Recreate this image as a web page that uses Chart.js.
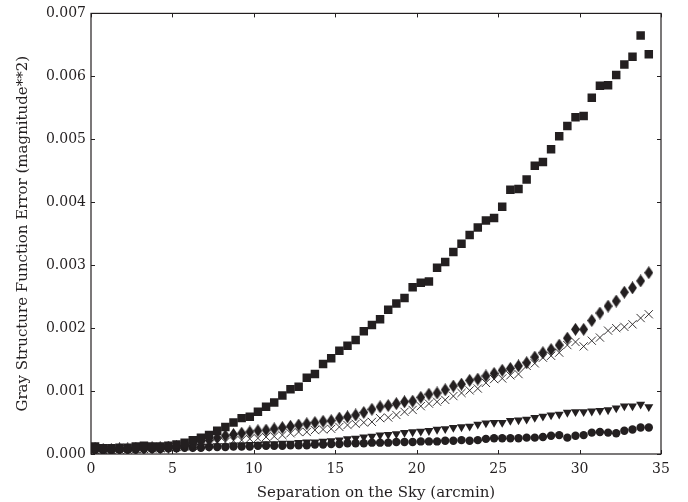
<!DOCTYPE html>
<html>
<head>
<meta charset="utf-8">
<script src="https://cdn.jsdelivr.net/npm/chart.js@4.4.1/dist/chart.umd.min.js"></script>
<style>
  html, body { margin: 0; padding: 0; background: #fff; }
  #wrap { width: 688px; height: 502px; }
</style>
</head>
<body>
<div id="wrap"><canvas id="chart" width="688" height="502"></canvas></div>
<script>
// separation bins (arcmin)
const separation = [
  0.25, 0.75, 1.25, 1.75, 2.25, 2.75, 3.25, 3.75, 4.25, 4.75,
  5.25, 5.75, 6.25, 6.75, 7.25, 7.75, 8.25, 8.75, 9.25, 9.75,
  10.25, 10.75, 11.25, 11.75, 12.25, 12.75, 13.25, 13.75, 14.25, 14.75,
  15.25, 15.75, 16.25, 16.75, 17.25, 17.75, 18.25, 18.75, 19.25, 19.75,
  20.25, 20.75, 21.25, 21.75, 22.25, 22.75, 23.25, 23.75, 24.25, 24.75,
  25.25, 25.75, 26.25, 26.75, 27.25, 27.75, 28.25, 28.75, 29.25, 29.75,
  30.25, 30.75, 31.25, 31.75, 32.25, 32.75, 33.25, 33.75, 34.25
];

const squareErr = [
  0.00012, 0.00009, 0.00009, 0.00010, 0.00010, 0.00012, 0.00013, 0.00012, 0.00012, 0.00013,
  0.00015, 0.00018, 0.00022, 0.00026, 0.00030, 0.00037, 0.00043, 0.00050, 0.00057, 0.00059,
  0.00067, 0.00075, 0.00082, 0.00093, 0.00103, 0.00107, 0.00121, 0.00127, 0.00143, 0.00152,
  0.00164, 0.00172, 0.00181, 0.00195, 0.00205, 0.00214, 0.00229, 0.00239, 0.00248, 0.00265,
  0.00272, 0.00274, 0.00296, 0.00305, 0.00321, 0.00334, 0.00348, 0.00360, 0.00371, 0.00375,
  0.00393, 0.00420, 0.00421, 0.00436, 0.00458, 0.00464, 0.00484, 0.00505, 0.00521, 0.00535,
  0.00537, 0.00566, 0.00585, 0.00586, 0.00602, 0.00619, 0.00631, 0.00665, 0.00635
];

const diamondErr = [
  0.00008, 0.00007, 0.00007, 0.00008, 0.00008, 0.00009, 0.00009, 0.00010, 0.00010, 0.00011,
  0.00012, 0.00014, 0.00016, 0.00019, 0.00022, 0.00026, 0.00029, 0.00031, 0.00033, 0.00035,
  0.00037, 0.00038, 0.00040, 0.00042, 0.00044, 0.00046, 0.00048, 0.00050, 0.00052, 0.00053,
  0.00057, 0.00059, 0.00062, 0.00066, 0.00071, 0.00075, 0.00077, 0.00080, 0.00083, 0.00084,
  0.00090, 0.00095, 0.00097, 0.00102, 0.00108, 0.00111, 0.00117, 0.00119, 0.00124, 0.00128,
  0.00133, 0.00136, 0.00140, 0.00145, 0.00154, 0.00161, 0.00166, 0.00173, 0.00184, 0.00198,
  0.00198, 0.00212, 0.00224, 0.00235, 0.00243, 0.00257, 0.00264, 0.00275, 0.00288
];

const crossErr = [
  0.00006, 0.00006, 0.00006, 0.00007, 0.00007, 0.00008, 0.00008, 0.00009, 0.00009, 0.00010,
  0.00011, 0.00012, 0.00013, 0.00014, 0.00016, 0.00018, 0.00019, 0.00021, 0.00022, 0.00024,
  0.00025, 0.00027, 0.00028, 0.00030, 0.00033, 0.00035, 0.00035, 0.00038, 0.00039, 0.00040,
  0.00043, 0.00046, 0.00048, 0.00050, 0.00051, 0.00057, 0.00058, 0.00062, 0.00067, 0.00070,
  0.00076, 0.00080, 0.00083, 0.00086, 0.00092, 0.00097, 0.00101, 0.00104, 0.00113, 0.00119,
  0.00120, 0.00125, 0.00127, 0.00140, 0.00144, 0.00153, 0.00156, 0.00161, 0.00173, 0.00178,
  0.00171, 0.00180, 0.00185, 0.00196, 0.00200, 0.00202, 0.00206, 0.00216, 0.00222
];

const triangleErr = [
  0.00007, 0.00006, 0.00006, 0.00007, 0.00007, 0.00008, 0.00008, 0.00009, 0.00009, 0.00010,
  0.00010, 0.00011, 0.00011, 0.00012, 0.00012, 0.00013, 0.00013, 0.00014, 0.00014, 0.00015,
  0.00015, 0.00016, 0.00016, 0.00017, 0.00017, 0.00018, 0.00019, 0.00019, 0.00020, 0.00021,
  0.00022, 0.00024, 0.00025, 0.00027, 0.00028, 0.00030, 0.00031, 0.00032, 0.00034, 0.00035,
  0.00036, 0.00037, 0.00039, 0.00040, 0.00042, 0.00043, 0.00044, 0.00047, 0.00049, 0.00050,
  0.00050, 0.00053, 0.00054, 0.00055, 0.00058, 0.00060, 0.00062, 0.00063, 0.00066, 0.00067,
  0.00067, 0.00068, 0.00069, 0.00070, 0.00073, 0.00076, 0.00076, 0.00079, 0.00075
];

const circleErr = [
  0.00006, 0.00006, 0.00006, 0.00007, 0.00007, 0.00007, 0.00008, 0.00008, 0.00008, 0.00009,
  0.00009, 0.00010, 0.00010, 0.00010, 0.00011, 0.00011, 0.00011, 0.00012, 0.00012, 0.00012,
  0.00013, 0.00013, 0.00013, 0.00013, 0.00014, 0.00014, 0.00014, 0.00015, 0.00015, 0.00016,
  0.00016, 0.00017, 0.00017, 0.00017, 0.00018, 0.00018, 0.00018, 0.00019, 0.00019, 0.00019,
  0.00020, 0.00020, 0.00020, 0.00021, 0.00021, 0.00022, 0.00021, 0.00022, 0.00024, 0.00025,
  0.00025, 0.00025, 0.00025, 0.00026, 0.00026, 0.00027, 0.00029, 0.00030, 0.00026, 0.00029,
  0.00030, 0.00034, 0.00035, 0.00034, 0.00033, 0.00037, 0.00039, 0.00042, 0.00042
];

const xTicks = [0, 5, 10, 15, 20, 25, 30, 35];
const yTicks = [0, 0.001, 0.002, 0.003, 0.004, 0.005, 0.006, 0.007];

const INK = '#231f20';
const FONT = "'DejaVu Serif', serif";

// thin diamond marker (matplotlib 'd')
const thinDiamond = (() => {
  const c = document.createElement('canvas');
  c.width = 9; c.height = 13;
  const g = c.getContext('2d');
  g.fillStyle = INK;
  g.beginPath();
  g.moveTo(4.5, 0); g.lineTo(9, 6.5); g.lineTo(4.5, 13); g.lineTo(0, 6.5);
  g.closePath();
  g.fill();
  return c;
})();

const pts = arr => separation.map((x, i) => ({ x, y: arr[i] }));

// box and inward ticks on all four sides
const frame = {
  id: 'frame',
  afterDraw(chart) {
    const { ctx, chartArea: a, scales } = chart;
    ctx.save();
    ctx.strokeStyle = INK;
    ctx.lineWidth = 1.2;
    ctx.strokeRect(a.left, a.top, a.right - a.left, a.bottom - a.top);
    ctx.lineWidth = 1;
    ctx.beginPath();
    xTicks.forEach(v => {
      const px = Math.round(scales.x.getPixelForValue(v)) + 0.5;
      ctx.moveTo(px, a.bottom); ctx.lineTo(px, a.bottom - 4);
      ctx.moveTo(px, a.top); ctx.lineTo(px, a.top + 4);
    });
    yTicks.forEach(v => {
      const py = Math.round(scales.y.getPixelForValue(v)) + 0.5;
      ctx.moveTo(a.left, py); ctx.lineTo(a.left + 4, py);
      ctx.moveTo(a.right, py); ctx.lineTo(a.right - 4, py);
    });
    ctx.stroke();
    ctx.restore();
  }
};

new Chart(document.getElementById('chart'), {
  type: 'scatter',
  data: {
    datasets: [
      { label: 'squares', data: pts(squareErr), pointStyle: 'rect', pointRadius: 6, backgroundColor: INK, borderColor: INK, borderWidth: 0 },
      { label: 'diamonds', data: pts(diamondErr), pointStyle: thinDiamond, backgroundColor: INK, borderColor: INK },
      { label: 'crosses', data: pts(crossErr), pointStyle: 'crossRot', pointRadius: 5.8, borderColor: INK, borderWidth: 0.9, backgroundColor: INK },
      { label: 'triangles', data: pts(triangleErr), pointStyle: 'triangle', rotation: 180, pointRadius: 5.2, backgroundColor: INK, borderColor: INK, borderWidth: 0 },
      { label: 'circles', data: pts(circleErr), pointStyle: 'circle', pointRadius: 4.2, backgroundColor: INK, borderColor: INK, borderWidth: 0 }
    ]
  },
  options: {
    responsive: false,
    animation: false,
    layout: { padding: { top: 13, right: 27, left: 0, bottom: 0 } },
    plugins: { legend: { display: false }, tooltip: { enabled: false } },
    scales: {
      x: {
        type: 'linear', min: 0, max: 35,
        afterBuildTicks: s => { s.ticks = xTicks.map(v => ({ value: v })); },
        afterFit: s => { s.height = 48; },
        grid: { display: false, drawTicks: false },
        border: { display: false },
        ticks: { color: INK, font: { family: FONT, size: 14 }, padding: 7, maxRotation: 0 },
        title: { display: true, text: 'Separation on the Sky (arcmin)', color: INK, font: { family: FONT, size: 15 }, padding: { top: 0, bottom: 0 } }
      },
      y: {
        type: 'linear', min: 0, max: 0.007,
        afterBuildTicks: s => { s.ticks = yTicks.map(v => ({ value: v })); },
        afterFit: s => { s.width = 91; },
        grid: { display: false, drawTicks: false },
        border: { display: false },
        ticks: { color: INK, font: { family: FONT, size: 14 }, padding: 5, callback: v => v.toFixed(3) },
        title: { display: true, text: 'Gray Structure Function Error (magnitude**2)', color: INK, font: { family: FONT, size: 15 }, padding: { top: 14, bottom: 0 } }
      }
    }
  },
  plugins: [frame]
});
</script>
</body>
</html>
